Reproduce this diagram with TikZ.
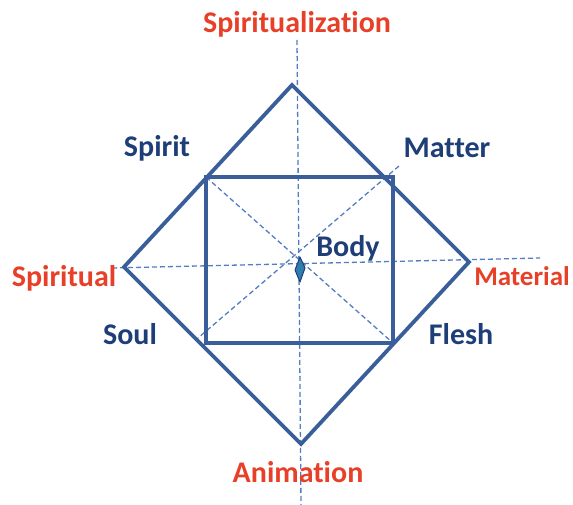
\documentclass[tikz,border=0pt]{standalone}
\usepackage{fontspec}
\setmainfont{Carlito}[Ligatures=NoCommon]
\usepackage{tikz}
\usetikzlibrary{calc}

\definecolor{redlab}{RGB}{232,64,40}
\definecolor{bluelab}{RGB}{30,62,120}
\definecolor{blueline}{RGB}{58,94,154}
\definecolor{bluedash}{RGB}{84,124,192}

\begin{document}
\begin{tikzpicture}[x=1pt, y=-1pt, font=\bfseries\fontsize{30}{34}\selectfont,
      rl/.style={text=redlab, anchor=base, inner sep=0pt},
      bl/.style={text=bluelab, anchor=base, inner sep=0pt},
      edge/.style={draw=blueline, line width=3.8pt, line join=miter},
      ax/.style={draw=bluedash, line width=1.3pt, dash pattern=on 5pt off 3pt}]
      \useasboundingbox (0,0) rectangle (573,505);
      % diamond and square corners
      \coordinate (top) at (292,85);   \coordinate (right) at (469,262);
      \coordinate (bot) at (301,444);  \coordinate (left) at (124,267);
      \coordinate (tl) at (206,177);   \coordinate (tr) at (393,177);
      \coordinate (br) at (393,343);   \coordinate (bl) at (206,343);
      % axis ends
      \coordinate (n) at (297,40);  \coordinate (s) at (301,505);
      \coordinate (w) at (112,268); \coordinate (e) at (540,258);
      \coordinate (ne) at (399,166); \coordinate (sw) at (198,338);
      \draw[ax] (n) -- (s);
      \draw[ax] (w) -- (e);
      \draw[ax] (ne) -- (sw);
      \draw[ax] (tl) -- (br);
      \draw[edge] (top) -- (right) -- (bot) -- (left) -- cycle;
      \draw[edge] (tl) rectangle (br);
      % little seed in the middle
      \draw[draw=bluelab, fill=blueline!80!cyan, line width=1pt, line join=round]
            (300,257) -- (305,268) -- (300,282) -- (295,270) -- cycle;
      \node[rl] (spiritualization) at (297,33) {Spiritualization};
      \node[rl] (spiritual) at (64,286) {Spiritual};
      \node[rl, font=\bfseries\fontsize{27}{30}\selectfont] (material) at (522,285) {Material};
      \node[rl] (animation) at (298,482) {Animation};
      \node[bl] (spirit) at (157,157) {Spirit};
      \node[bl] (matter) at (447,158) {Matter};
      \node[bl] (soul) at (130,344) {Soul};
      \node[bl] (flesh) at (461,344) {Flesh};
      \node[bl] (body) at (348,257) {Body};
    \end{tikzpicture}
\end{document}
